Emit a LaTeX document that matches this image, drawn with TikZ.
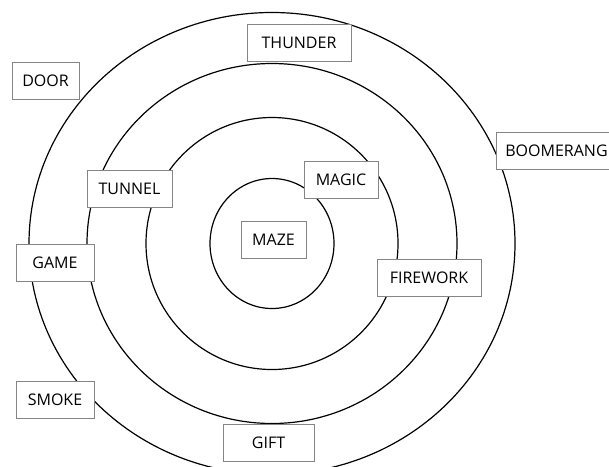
\documentclass[tikz,border=0pt]{standalone}
\usepackage{fontspec}
\setmainfont{Open Sans}
\definecolor{boxgray}{HTML}{858585}

\begin{document}
\begin{tikzpicture}[x=1pt,y=-1pt]
      \useasboundingbox (0,0) rectangle (609,466);
      \coordinate (c) at (272,243.5);
      \begin{scope}[line width=1.2pt]
        \draw (c) ellipse [x radius=62, y radius=65];
        \draw (c) ellipse [x radius=126, y radius=126];
        \draw (c) ellipse [x radius=185, y radius=180];
        \draw (c) ellipse [x radius=243, y radius=231];
      \end{scope}
      \begin{scope}[every node/.style={rectangle,draw=boxgray,line width=0.9pt,fill=white,
          inner sep=0pt,minimum height=37pt,font=\fontsize{16}{19}\selectfont}]
        \node[minimum width=104pt] (thunder) at (299,43) {THUNDER};
        \node[minimum width=67pt] (door) at (45.5,80.5) {DOOR};
        \node[minimum width=121pt] (boomerang) at (556.5,151) {BOOMERANG};
        \node[minimum width=85pt] (tunnel) at (129.5,188.5) {TUNNEL};
        \node[minimum width=74pt] (magic) at (341,179.5) {MAGIC};
        \node[minimum width=65pt] (maze) at (273.5,239.5) {MAZE};
        \node[minimum width=78pt] (game) at (55,263) {GAME};
        \node[minimum width=104pt] (firework) at (429,277.5) {FIREWORK};
        \node[minimum width=78pt] (smoke) at (55,399.5) {SMOKE};
        \node[minimum width=91pt] (gift) at (268.5,442.5) {GIFT};
      \end{scope}
    \end{tikzpicture}
\end{document}
